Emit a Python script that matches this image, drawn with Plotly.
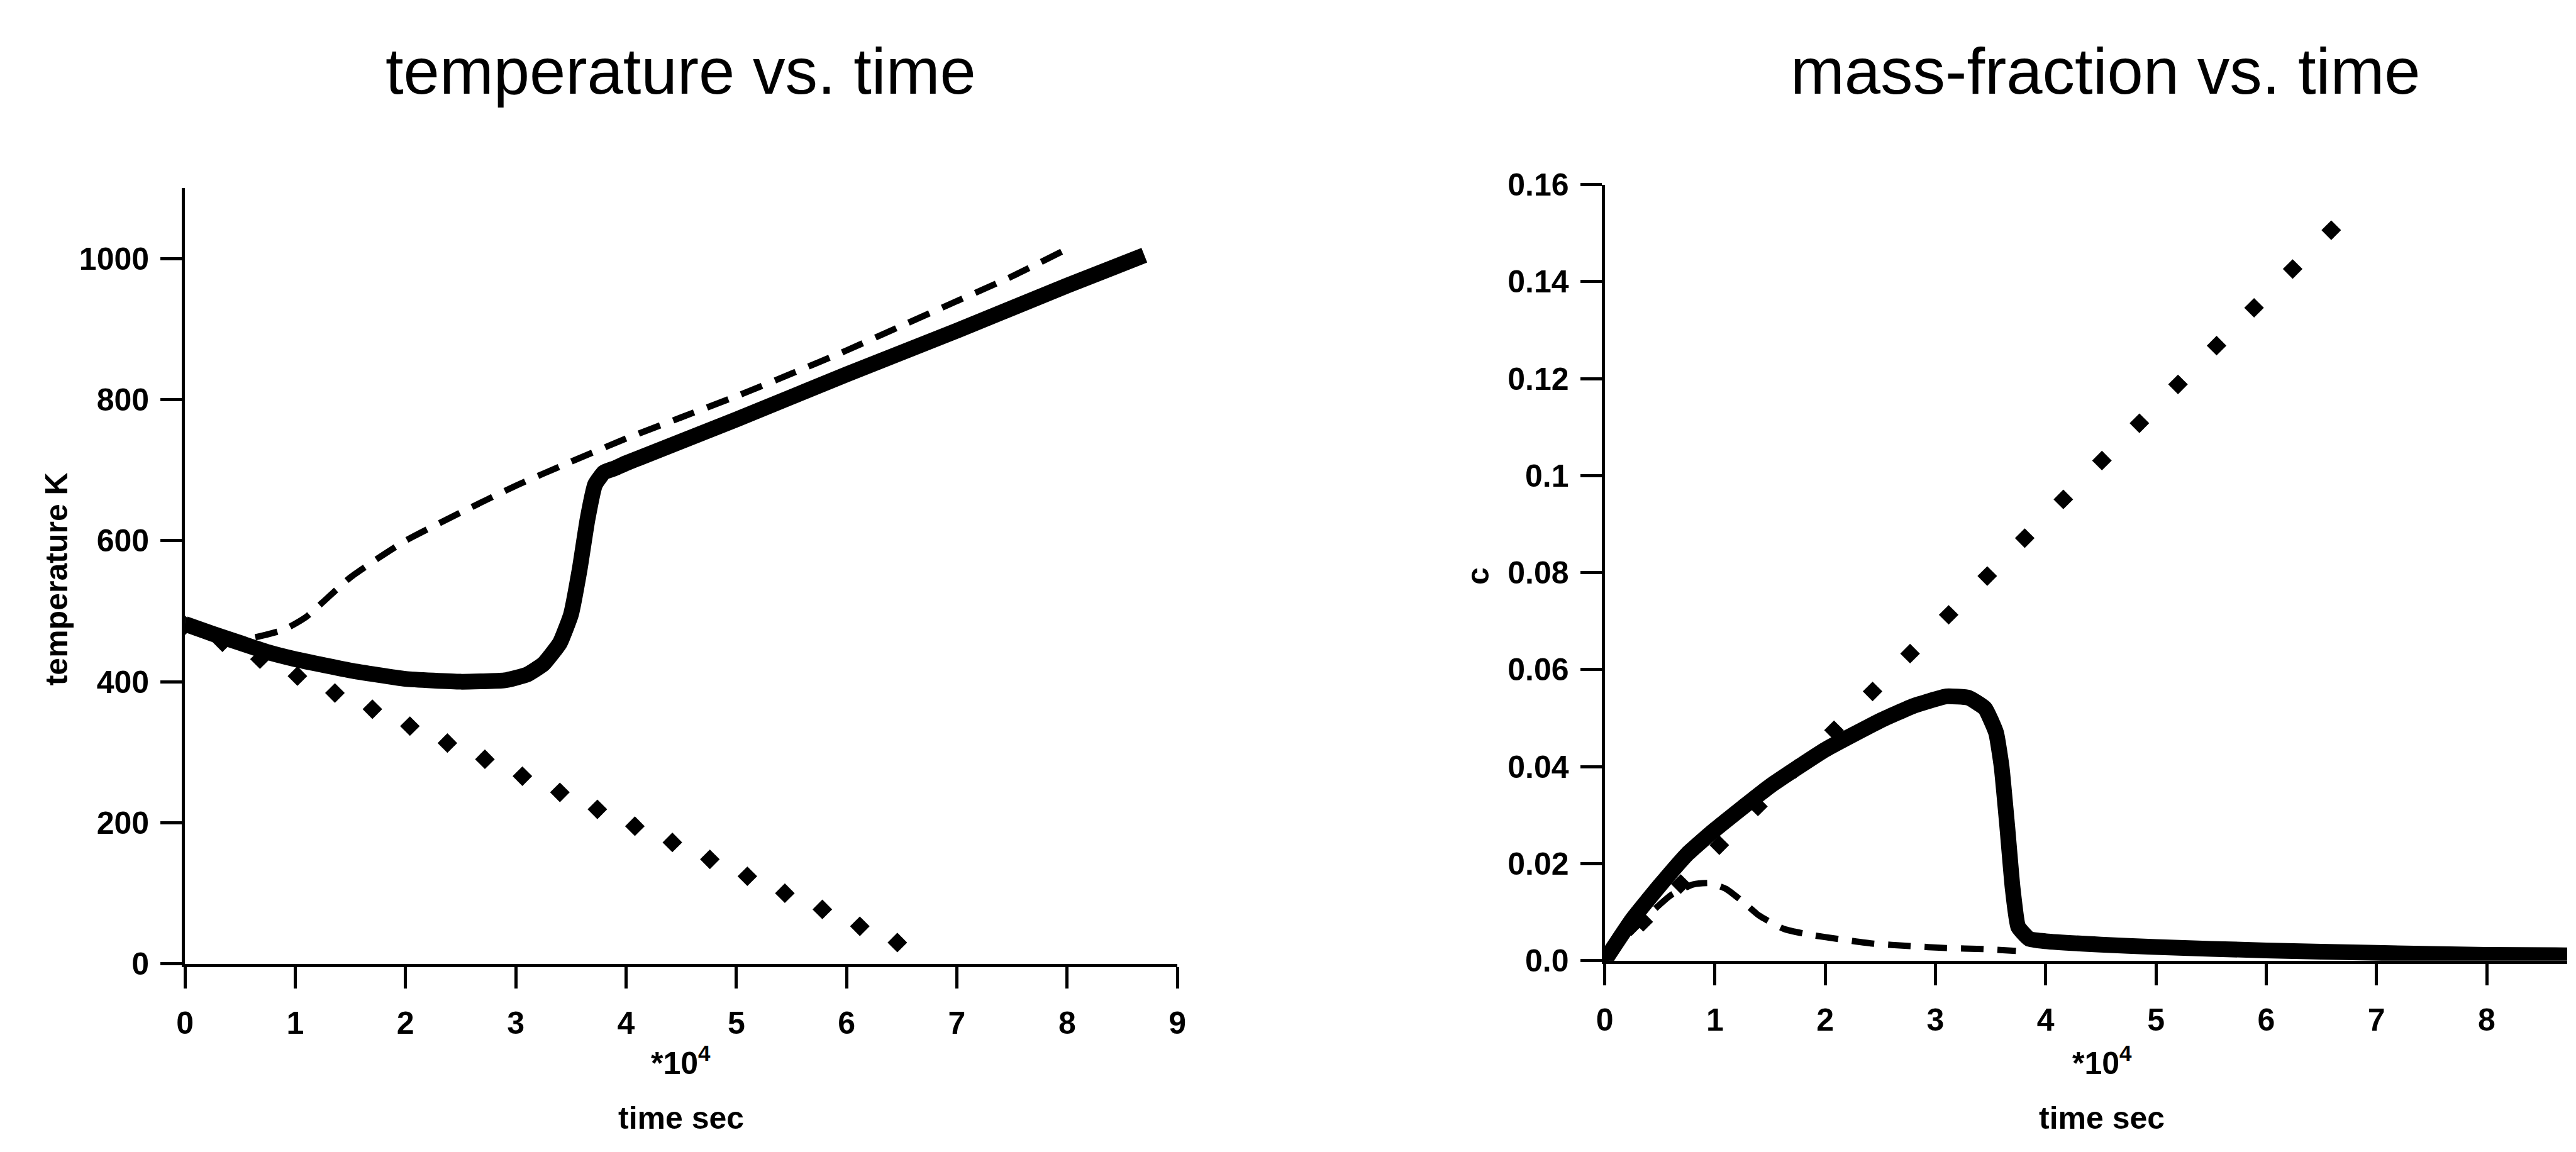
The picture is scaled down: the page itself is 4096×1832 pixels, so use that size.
import plotly.graph_objects as go

# ---------------- data ----------------
# left panel: temperature vs time (time in units of 10^4 s)
temp_solid_t = [0, 0.25, 0.5, 0.75, 1.0, 1.5, 2.0, 2.5, 2.9, 3.1, 3.25, 3.4, 3.5, 3.58, 3.65, 3.72, 3.8, 3.9, 4.0, 5.0, 6.0, 7.0, 8.0, 8.7]
temp_solid_T = [482, 468, 455, 442, 432, 416, 404, 400, 402, 410, 425, 455, 495, 560, 630, 680, 697, 703, 710, 772, 836, 898, 962, 1005]

temp_dash_t = [0, 0.3, 0.6, 0.9, 1.1, 1.3, 1.5, 1.75, 2.0, 2.5, 3.0, 3.5, 4.0, 4.5, 5.0, 5.5, 6.0, 6.5, 7.0, 7.5, 7.95]
temp_dash_T = [480, 462, 462, 474, 492, 520, 548, 575, 600, 640, 678, 712, 745, 775, 805, 837, 870, 905, 940, 975, 1010]

temp_dot_t = [0.0, 0.34, 0.68, 1.02, 1.36, 1.70, 2.04, 2.38, 2.72, 3.06, 3.40, 3.74, 4.08, 4.42, 4.76, 5.10, 5.44, 5.78, 6.12, 6.46]
temp_dot_T = [480, 456, 432, 408, 384, 361, 337, 313, 290, 266, 243, 219, 195, 172, 148, 124, 100, 77, 53, 30]

# right panel: mass fraction vs time
mf_solid_t = [0, 0.25, 0.5, 0.75, 1.0, 1.5, 2.0, 2.5, 2.8, 3.1, 3.3, 3.45, 3.55, 3.6, 3.65, 3.7, 3.75, 3.85, 4.0, 4.5, 5.0, 6.0, 7.0, 8.0, 8.73]
mf_solid_c = [0, 0.0085, 0.0155, 0.022, 0.027, 0.036, 0.0435, 0.0495, 0.0525, 0.0545, 0.0542, 0.052, 0.047, 0.040, 0.028, 0.015, 0.007, 0.0045, 0.0040, 0.0033, 0.0028, 0.0021, 0.0016, 0.0012, 0.0011]

mf_dash_t = [0, 0.2, 0.4, 0.6, 0.8, 0.95, 1.1, 1.25, 1.4, 1.63, 1.87, 2.14, 2.44, 2.77, 3.1, 3.43, 3.73]
mf_dash_c = [0, 0.005, 0.0095, 0.0135, 0.0157, 0.016, 0.0148, 0.0122, 0.0093, 0.0065, 0.0053, 0.0044, 0.0035, 0.003, 0.0026, 0.0024, 0.002]

mf_dot_t = [0, 0.35, 0.69, 1.04, 1.39, 1.73, 2.08, 2.43, 2.77, 3.12, 3.47, 3.81, 4.16, 4.51, 4.85, 5.2, 5.55, 5.89, 6.24, 6.59]
mf_dot_c = [0, 0.008, 0.0158, 0.0238, 0.0318, 0.0395, 0.0475, 0.0555, 0.0633, 0.0713, 0.0793, 0.0871, 0.0951, 0.1031, 0.1108, 0.1188, 0.1268, 0.1346, 0.1426, 0.1506]

left_xticks = [0, 1, 2, 3, 4, 5, 6, 7, 8, 9]
left_yticks = [0, 200, 400, 600, 800, 1000]
right_xticks = [0, 1, 2, 3, 4, 5, 6, 7, 8]
right_yticks = [0, 0.02, 0.04, 0.06, 0.08, 0.1, 0.12, 0.14, 0.16]
right_yticktext = ["0.0", "0.02", "0.04", "0.06", "0.08", "0.1", "0.12", "0.14", "0.16"]

# ---------------- layout helpers ----------------
W, H = 4096, 1832
def px(x):
    return x / W
def py(y):
    return 1 - y / H

FONT = "Liberation Sans, Arial, Helvetica, sans-serif"
BLACK = "#000000"

fig = go.Figure()

dot_marker = dict(symbol="diamond", size=24, color=BLACK, line=dict(width=0))
dash_line = dict(color=BLACK, width=10, dash="36px,22px", shape="spline", smoothing=0.5)
solid_line = dict(color=BLACK, width=25, shape="spline", smoothing=0.4)

fig.add_trace(go.Scatter(x=temp_dot_t, y=temp_dot_T, mode="markers", marker=dot_marker, xaxis="x", yaxis="y", showlegend=False))
fig.add_trace(go.Scatter(x=temp_dash_t, y=temp_dash_T, mode="lines", line=dash_line, xaxis="x", yaxis="y", showlegend=False))
fig.add_trace(go.Scatter(x=temp_solid_t, y=temp_solid_T, mode="lines", line=solid_line, xaxis="x", yaxis="y", showlegend=False))

fig.add_trace(go.Scatter(x=mf_dot_t, y=mf_dot_c, mode="markers", marker=dot_marker, xaxis="x2", yaxis="y2", showlegend=False))
fig.add_trace(go.Scatter(x=mf_dash_t, y=mf_dash_c, mode="lines", line=dash_line, xaxis="x2", yaxis="y2", showlegend=False))
fig.add_trace(go.Scatter(x=mf_solid_t, y=mf_solid_c, mode="lines", line=solid_line, xaxis="x2", yaxis="y2", showlegend=False))

tickfont = dict(family=FONT, size=50, color=BLACK, weight="bold")
axis_common = dict(showline=True, linewidth=5, linecolor=BLACK, ticks="outside", ticklen=34,
                   tickwidth=5, tickcolor=BLACK, showgrid=False, zeroline=False, tickfont=tickfont,
                   fixedrange=True)

L_x0, L_x1 = 282, 1871
L_ytop, L_ybot = 281, 1553
R_x0, R_x1 = 2555, 4096
R_ytop, R_ybot = 275, 1548

fig.update_layout(
    width=W, height=H,
    margin=dict(l=0, r=0, t=0, b=0),
    paper_bgcolor="white", plot_bgcolor="white",
    xaxis=dict(domain=[px(L_x0), px(L_x1)], range=[0, 9], anchor="y", tickmode="array",
               tickvals=left_xticks, ticktext=[str(v) for v in left_xticks], ticklabelstandoff=12, **axis_common),
    yaxis=dict(domain=[py(L_ybot), py(L_ytop)], range=[0, 1100], anchor="x", tickmode="array",
               tickvals=left_yticks, ticktext=[str(v) for v in left_yticks], ticklabelstandoff=8, **axis_common),
    xaxis2=dict(domain=[px(R_x0), px(R_x1)], range=[0, 8.73], anchor="y2", tickmode="array",
                tickvals=right_xticks, ticktext=[str(v) for v in right_xticks], ticklabelstandoff=12, **axis_common),
    yaxis2=dict(domain=[py(R_ybot), py(R_ytop)], range=[0, 0.16], anchor="x2", tickmode="array",
                tickvals=right_yticks, ticktext=right_yticktext, ticklabelstandoff=8, **axis_common),
)

title_font = dict(family=FONT, size=103, color=BLACK)
label_font = dict(family=FONT, size=50, color=BLACK, weight="bold")

annotations = [
    dict(text="temperature vs. time", x=px(1076), y=py(89), font=title_font),
    dict(text="mass-fraction vs. time", x=px(3357), y=py(89), font=title_font),
    dict(text="temperature K", x=px(76), y=py(922), font=label_font, textangle=-90),
    dict(text="c", x=px(2352), y=py(917), font=label_font, textangle=-90),
    dict(text="*10<sup>4</sup>", x=px(1076), y=py(1712), font=label_font),
    dict(text="*10<sup>4</sup>", x=px(3351), y=py(1712), font=label_font),
    dict(text="time sec", x=px(1076), y=py(1806), font=label_font),
    dict(text="time sec", x=px(3351), y=py(1806), font=label_font),
]
for a in annotations:
    a.update(xref="paper", yref="paper", showarrow=False, xanchor="center", yanchor="middle")
fig.update_layout(annotations=annotations)

fig.write_html("out.html")
